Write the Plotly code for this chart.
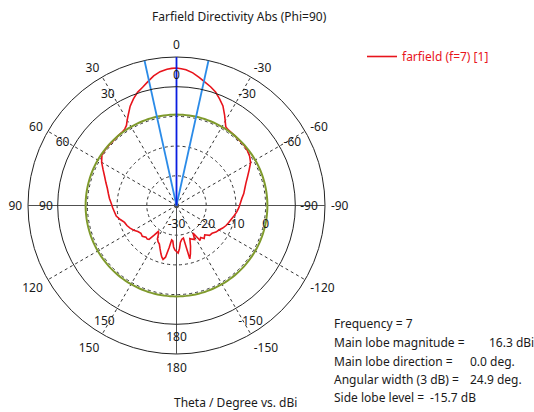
import plotly.graph_objects as go

# ---------------- data ----------------
theta_deg = [-180, -178, -176, -174, -171, -168, -166, -164, -161, -158, -155, -152, -149, -146,
             -143, -140, -136, -132, -128, -124, -120, -116, -112, -108, -104, -100, -96, -92,
             -88, -84, -80, -76, -72, -68, -64, -60, -56, -52, -48, -44, -40, -36, -34, -32,
             -30, -28, -25, -22, -19, -16, -13, -10, -7, -4, -2, 0, 2, 4, 7, 10, 13, 16, 19,
             22, 25, 28, 30, 32, 34, 36, 40, 44, 48, 52, 56, 60, 64, 68, 72, 76, 80, 84, 88,
             92, 96, 100, 104, 108, 112, 116, 120, 124, 128, 132, 136, 139, 141, 143, 145,
             147, 150, 153, 156, 159, 162, 164, 166, 168, 170, 172, 174, 176, 178, 180]
directivity_dbi = [-14.5, -14.0, -15.5, -17.5, -18.5, -18.8, -11.5, -13.0, -15.5, -18.0, -17.5,
                   -17.0, -19.2, -15.8, -16.5, -15.5, -16.3, -15.0, -14.8, -14.0, -13.5, -12.7,
                   -12.0, -11.5, -11.0, -10.3, -9.6, -9.0, -8.5, -7.9, -7.0, -6.3, -5.4, -4.2,
                   -2.8, -1.2, -0.3, 0.2, 0.5, 0.5, 0.6, 0.8, 0.9, 1.3, 2.8, 4.5, 7.0, 8.7,
                   10.4, 11.6, 12.6, 13.8, 15.0, 15.8, 16.1, 16.3, 16.2, 16.0, 15.4, 14.3, 12.8,
                   11.4, 10.3, 8.7, 6.9, 4.6, 3.2, 1.8, 1.1, 0.8, 0.6, 0.5, 0.5, 0.5, 0.3, -0.9,
                   -2.5, -3.9, -5.0, -6.0, -6.7, -7.3, -8.0, -8.5, -9.0, -9.4, -10.5, -11.6,
                   -12.0, -12.6, -13.4, -14.3, -14.8, -14.5, -15.2, -15.0, -15.3, -17.5, -19.3,
                   -19.0, -17.2, -16.3, -15.8, -14.5, -13.0, -12.0, -11.3, -12.2, -15.5, -18.3,
                   -18.0, -16.0, -15.0, -14.5]

frequency = 7
main_lobe_magnitude = 16.3      # dBi
main_lobe_direction = 0.0       # deg
angular_width = 24.9            # deg (3 dB)
side_lobe_level = -15.7         # dB

angle_tickvals = [0, 30, 60, 90, 120, 150, 180, 210, 240, 270, 300, 330]
angle_ticktext = ["0", "30", "60", "90", "120", "150", "180", "-150", "-120", "-90", "-60", "-30"]
inner_tickvals = [0, 30, 60, 90, 150, 180, 210, 270, 300, 330]
inner_ticktext = ["0", "30", "60", "90", "150", "180", "-150", "-90", "-60", "-30"]
radial_tickvals = [-30, -20, -10, 0]
radial_ticktext = ["-30", "-20", "-10", "0"]
r_min, r_max, r_inner = -30, 20, 10

# ---------------- geometry ----------------
W, H = 534, 412
cx, cy = 176.5, 205.5
R_out = 148.5
R_in = R_out * (r_inner - r_min) / (r_max - r_min)
FONT = "Noto Sans, DejaVu Sans, sans-serif"
TXT = "#1a1a1a"
CLEAR = "rgba(0,0,0,0)"


def dom(R):
    return dict(x=[(cx - R) / W, (cx + R) / W], y=[(H - cy - R) / H, (H - cy + R) / H])


fig = go.Figure()

# empty traces so that the frame-only polar subplots get drawn
for sp in ["polar", "polar3"]:
    fig.add_trace(go.Scatterpolar(r=[None], theta=[None], subplot=sp, mode="lines",
                                  showlegend=False, hoverinfo="skip"))

sll_abs = main_lobe_magnitude + side_lobe_level
circle_theta = list(range(0, 361, 2))

fig.add_trace(go.Scatterpolar(
    r=directivity_dbi, theta=theta_deg, mode="lines", subplot="polar2",
    line=dict(color="#e8141c", width=1.6), name="farfield (f=7) [1]", showlegend=True))
fig.add_trace(go.Scatterpolar(
    r=[sll_abs] * len(circle_theta), theta=circle_theta, mode="lines", subplot="polar2",
    line=dict(color="#7f9a2c", width=2), showlegend=False, hoverinfo="skip"))
for th in [main_lobe_direction + angular_width / 2, main_lobe_direction - angular_width / 2]:
    fig.add_trace(go.Scatterpolar(
        r=[r_min, r_max], theta=[th, th], mode="lines", subplot="polar2",
        line=dict(color="#2b8be8", width=1.8), showlegend=False, hoverinfo="skip"))
fig.add_trace(go.Scatterpolar(
    r=[r_min, r_max], theta=[main_lobe_direction] * 2, mode="lines", subplot="polar2",
    line=dict(color="#0a1ee0", width=1.8), showlegend=False, hoverinfo="skip"))

common_ang = dict(rotation=90, direction="counterclockwise")

fig.update_layout(
    width=W, height=H, margin=dict(l=0, r=0, t=0, b=0),
    paper_bgcolor="white", plot_bgcolor="white",
    font=dict(family=FONT, size=12, color=TXT),
    polar=dict(
        domain=dom(R_out), bgcolor="white",
        radialaxis=dict(range=[r_min, r_max], tickvals=[-20, -10, 0], showticklabels=False,
                        showgrid=True, gridcolor="#333", griddash="3px,3px", gridwidth=1,
                        showline=False, ticks=""),
        angularaxis=dict(**common_ang, tickvals=angle_tickvals, ticktext=angle_ticktext,
                         showgrid=True, gridcolor="#333", griddash="3px,3px", gridwidth=1,
                         showline=True, linecolor="#222", linewidth=1,
                         ticks="outside", ticklen=3, tickcolor=CLEAR,
                         tickfont=dict(size=12, color=TXT)),
    ),
    polar2=dict(
        domain=dom(R_out), bgcolor=CLEAR,
        radialaxis=dict(range=[r_min, r_max], tickvals=radial_tickvals, ticktext=radial_ticktext,
                        showgrid=False, showline=False, angle=0, side="clockwise",
                        ticks="outside", ticklen=8, tickcolor=CLEAR,
                        tickfont=dict(size=12, color=TXT)),
        angularaxis=dict(**common_ang, tickvals=[0, 90, 180, 270], showticklabels=False,
                         showgrid=True, gridcolor="#505050", gridwidth=1.2, showline=False,
                         ticks=""),
    ),
    polar3=dict(
        domain=dom(R_in), bgcolor=CLEAR,
        radialaxis=dict(visible=False, range=[r_min, r_inner]),
        angularaxis=dict(**common_ang, tickvals=inner_tickvals, ticktext=inner_ticktext,
                         showgrid=False, showline=True, linecolor="#222", linewidth=1,
                         ticks="outside", ticklen=2, tickcolor=CLEAR,
                         tickfont=dict(size=12, color=TXT)),
    ),
    legend=dict(x=362 / W, y=1 - 42 / H, xanchor="left", yanchor="top",
                font=dict(color="#e8141c", size=12), bgcolor=CLEAR),
)

ann = []


def txt(x, y, s, anchor="left", **kw):
    ann.append(dict(x=x / W, y=1 - y / H, xref="paper", yref="paper", text=s, showarrow=False,
                    xanchor=anchor, yanchor="middle", font=dict(size=12, color=TXT), **kw))


txt(239, 17, "Farfield Directivity Abs (Phi=90)", anchor="center")
txt(332, 323, f"Frequency = {frequency}")
txt(332, 342, "Main lobe magnitude =")
txt(487, 342, f"{main_lobe_magnitude:.1f} dBi")
txt(332, 361, "Main lobe direction =")
txt(468, 361, f"{main_lobe_direction:.1f} deg.")
txt(332, 379, "Angular width (3 dB) =")
txt(468, 379, f"{angular_width:.1f} deg.")
txt(332, 397, "Side lobe level =")
txt(428, 397, f"{side_lobe_level:.1f} dB")
txt(172, 402, "Theta / Degree vs. dBi")
fig.update_layout(annotations=ann)

fig.write_html("out.html", config={"displayModeBar": False},
               post_script="document.body.style.margin='0';document.body.style.overflow='hidden';")
